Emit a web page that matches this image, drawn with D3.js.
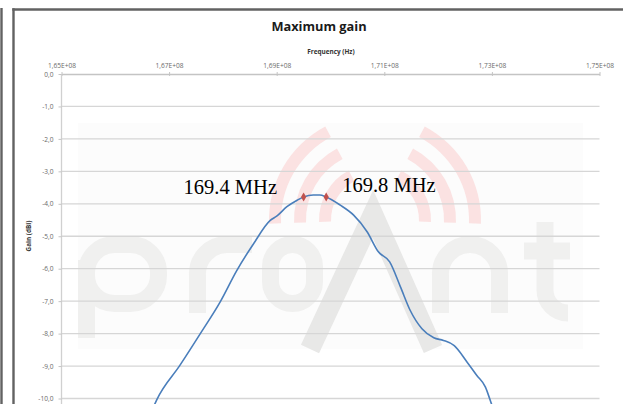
<!DOCTYPE html>
<html>
<head>
<meta charset="utf-8">
<script src="https://cdn.jsdelivr.net/npm/d3@7"></script>
<style>
    body { margin: 0; background: #fff; }
    svg { display: block; }
</style>
</head>
<body>
<div id="chart"></div>
<script>
// Data (frequency in MHz, gain in dBi)
// ===================================
const freqs = [166.70, 166.77, 167.20, 167.58, 167.95, 168.26, 168.57, 168.88, 169.00, 169.19, 169.38, 169.50, 169.68, 169.80, 169.92, 170.18, 170.43, 170.68, 170.89, 171.10, 171.30, 171.48, 171.70, 171.92, 172.10, 172.30, 172.54, 172.72, 172.88, 172.97, 173.02]
const gains = [-10.30, -10.04, -8.98, -8.00, -7.02, -6.05, -5.23, -4.51, -4.38, -4.09, -3.89, -3.79, -3.73, -3.73, -3.79, -4.04, -4.35, -4.86, -5.48, -5.79, -6.56, -7.28, -7.85, -8.13, -8.21, -8.37, -8.88, -9.29, -9.65, -10.06, -10.30]
const markerFreqs = [169.50, 169.92]
const markerGains = [-3.79, -3.79]
const markerLabels = ["169.4 MHz", "169.8 MHz"]
const xTickValues = [165, 167, 169, 171, 173, 175]
const xTickLabels = ["1,65E+08", "1,67E+08", "1,69E+08", "1,71E+08", "1,73E+08", "1,75E+08"]
const yTickValues = [0, -1, -2, -3, -4, -5, -6, -7, -8, -9, -10]
const yTickLabels = ["0,0", "-1,0", "-2,0", "-3,0", "-4,0", "-5,0", "-6,0", "-7,0", "-8,0", "-9,0", "-10,0"]

const _WIDTH = 623
const _HEIGHT = 404
const _PLOT = { left: 61.5, right: 599.5, top: 74, bottom: 398.5 }

const xScale = d3.scaleLinear().domain([165, 175]).range([_PLOT.left, _PLOT.right])
const yScale = d3.scaleLinear().domain([0, -10]).range([_PLOT.top, _PLOT.bottom])

const svg = d3
    .select("#chart")
    .append("svg")
    .attr("width", _WIDTH)
    .attr("height", _HEIGHT)

// Frame
// ===================================
const frame = svg.append("g").attr("stroke", "#626262").attr("stroke-width", 2.4).attr("fill", "none")
frame.append("line").attr("x1", 1.5).attr("x2", 1.5).attr("y1", 8).attr("y2", _HEIGHT)
frame.append("line").attr("x1", 13.5).attr("x2", 13.5).attr("y1", 8.3).attr("y2", _HEIGHT)
frame.append("line").attr("x1", 12.3).attr("x2", _WIDTH).attr("y1", 9.5).attr("y2", 9.5)

// Watermark
// ===================================
const wm = svg.append("g").attr("class", "watermark")
wm.append("rect").attr("x", 78).attr("y", 123).attr("width", 505).attr("height", 226).attr("fill", "#fcfcfc")
const letters = wm.append("g").attr("fill", "none").attr("stroke", "#f0f0ef").attr("stroke-width", 17)
letters.append("line").attr("x1", 86.5).attr("x2", 86.5).attr("y1", 260).attr("y2", 338)
letters.append("rect").attr("x", 86.5).attr("y", 244.5).attr("width", 72).attr("height", 59).attr("rx", 28)
letters.append("path").attr("d", "M197.5,313 V276 A29.5,29.5 0 0 1 227,244.5 H252")
letters.append("rect").attr("x", 270.5).attr("y", 244.5).attr("width", 44).attr("height", 59).attr("rx", 22)
letters.append("path").attr("d", "M440.5,313 V276 A29.5,29.5 0 0 1 470,244.5 A29.5,29.5 0 0 1 499.5,276 V313")
letters.append("path").attr("d", "M545,222 V290 A23,23 0 0 0 568,313")
letters.append("path").attr("d", "M524,251 H570")
wm.append("path")
    .attr("d", "M310,349 L373,214 L433,349")
    .attr("fill", "none")
    .attr("stroke", "#e8e8e7")
    .attr("stroke-width", 20)

const arc = d3.arc()
const waves = wm.append("g").attr("transform", "translate(375,220)").attr("fill", "#fbe2e2")
const deg = Math.PI / 180
;[50, 75, 100].forEach(r => {
    waves.append("path").attr("d", arc({ innerRadius: r - 6, outerRadius: r + 6, startAngle: -92 * deg, endAngle: -28 * deg }))
    waves.append("path").attr("d", arc({ innerRadius: r - 6, outerRadius: r + 6, startAngle: 28 * deg, endAngle: 92 * deg }))
})

// Grid
// ===================================
svg.append("g")
    .attr("class", "grid")
    .selectAll("line")
    .data(yTickValues.slice(1))
    .join("line")
    .attr("x1", _PLOT.left)
    .attr("x2", _PLOT.right)
    .attr("y1", d => yScale(d))
    .attr("y2", d => yScale(d))
    .attr("stroke", "#d6d6d6")
    .attr("stroke-width", 1.3)

// Axes
// ===================================
const xAxis = svg
    .append("g")
    .attr("class", "x-axis")
    .attr("transform", `translate(0,${_PLOT.top})`)
    .call(d3.axisTop(xScale)
        .tickValues(xTickValues)
        .tickFormat((d, i) => xTickLabels[i])
        .tickSizeInner(2)
        .tickSizeOuter(0)
        .tickPadding(4))
xAxis.select(".domain").attr("stroke", "#c4c4c4").attr("stroke-width", 1.3)
xAxis.selectAll(".tick line").attr("stroke", "#c4c4c4").attr("transform", "translate(0,2)").attr("y2", -4)
xAxis.selectAll("text")
    .attr("fill", "#6a6a6a")
    .attr("font-family", "'Open Sans', sans-serif")
    .attr("font-size", 6.6)

const yAxis = svg
    .append("g")
    .attr("class", "y-axis")
    .attr("transform", `translate(${_PLOT.left},0)`)
    .call(d3.axisLeft(yScale)
        .tickValues(yTickValues)
        .tickFormat((d, i) => yTickLabels[i])
        .tickSizeInner(3)
        .tickSizeOuter(0)
        .tickPadding(5))
yAxis.select(".domain").attr("stroke", "#d0d0d0").attr("stroke-width", 1.3).attr("d", `M0,${_PLOT.top}V${_HEIGHT + 10}`)
yAxis.selectAll(".tick line").attr("stroke", "#c4c4c4")
yAxis.selectAll("text")
    .attr("fill", "#6a6a6a")
    .attr("font-family", "'Open Sans', sans-serif")
    .attr("font-size", 6.6)

// Titles
// ===================================
svg.append("text")
    .attr("x", 319)
    .attr("y", 31)
    .attr("text-anchor", "middle")
    .attr("font-family", "'Open Sans', sans-serif")
    .attr("font-weight", "bold")
    .attr("font-size", 12.8)
    .attr("fill", "#1a1a1a")
    .text("Maximum gain")

svg.append("text")
    .attr("x", 331)
    .attr("y", 54)
    .attr("text-anchor", "middle")
    .attr("font-family", "'Open Sans', sans-serif")
    .attr("font-weight", "bold")
    .attr("font-size", 6.4)
    .attr("fill", "#333")
    .text("Frequency (Hz)")

svg.append("text")
    .attr("transform", "translate(31,236) rotate(-90)")
    .attr("text-anchor", "middle")
    .attr("font-family", "'Open Sans', sans-serif")
    .attr("font-weight", "bold")
    .attr("font-size", 6.4)
    .attr("fill", "#333")
    .text("Gain (dBi)")

// Line
// ===================================
const line = d3
    .line()
    .x((d, i) => xScale(freqs[i]))
    .y(d => yScale(d))
    .curve(d3.curveMonotoneX)

svg.append("path")
    .datum(gains)
    .attr("fill", "none")
    .attr("stroke", "#4a7ebb")
    .attr("stroke-width", 1.6)
    .attr("d", line)

// Markers & labels
// ===================================
svg.append("g")
    .selectAll("path")
    .data(markerFreqs)
    .join("path")
    .attr("d", d3.symbol().type(d3.symbolDiamond).size(24))
    .attr("transform", (d, i) => `translate(${xScale(d)},${yScale(markerGains[i])})`)
    .attr("fill", "#c0504d")

const labelPos = [{ dx: -120, dy: -3 }, { dx: 16, dy: -5 }]
svg.append("g")
    .selectAll("text")
    .data(markerLabels)
    .join("text")
    .attr("x", (d, i) => xScale(markerFreqs[i]) + labelPos[i].dx)
    .attr("y", (d, i) => yScale(markerGains[i]) + labelPos[i].dy)
    .attr("font-family", "'Liberation Serif', 'Times New Roman', serif")
    .attr("font-size", 20.5)
    .attr("fill", "#000")
    .text(d => d)
</script>
</body>
</html>
